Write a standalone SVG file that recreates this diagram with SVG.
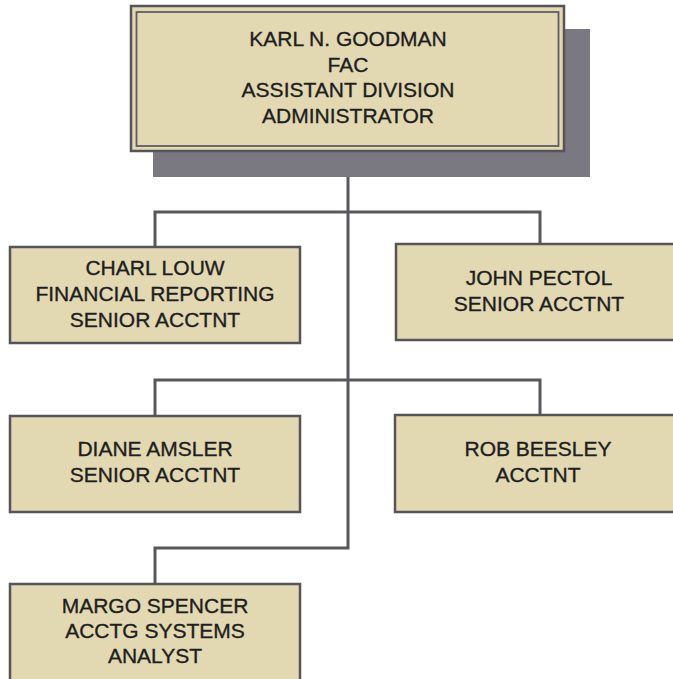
<svg xmlns="http://www.w3.org/2000/svg" width="673" height="679" viewBox="0 0 673 679">
<style>
.box{fill:#e2d8b2;stroke:#55545a;stroke-width:2.5}
.inner{fill:none;stroke:#5e5d62;stroke-width:1.8}
.shadow{fill:#7a7880}
.conn{fill:none;stroke:#58575d;stroke-width:3}
text{font-family:"Liberation Sans",Arial,sans-serif;font-size:21px;fill:#1e1e1e;stroke:#1e1e1e;stroke-width:0.35;text-anchor:middle}
</style>
<rect width="673" height="679" fill="#ffffff"/>
<g id="connectors">
<path class="conn" d="M348,150 V548 H155 V584"/>
<path class="conn" d="M155,247 V212 H540 V244"/>
<path class="conn" d="M155,416 V380 H540 V415"/>
</g>
<g id="node-goodman">
<rect class="shadow" x="153" y="29" width="437" height="148"/>
<rect class="box" x="131" y="6" width="433" height="145"/>
<rect class="inner" x="136.5" y="12" width="422" height="134"/>
<text x="348" y="46">KARL N. GOODMAN</text>
<text x="348" y="72">FAC</text>
<text x="348" y="97">ASSISTANT DIVISION</text>
<text x="348" y="123">ADMINISTRATOR</text>
</g>
<g id="node-louw">
<rect class="box" x="10" y="247" width="290" height="96"/>
<text x="155" y="275">CHARL LOUW</text>
<text x="155" y="301">FINANCIAL REPORTING</text>
<text x="155" y="327">SENIOR ACCTNT</text>
</g>
<g id="node-pectol">
<rect class="box" x="396" y="244" width="292" height="96"/>
<text x="539" y="285">JOHN PECTOL</text>
<text x="539" y="311">SENIOR ACCTNT</text>
</g>
<g id="node-amsler">
<rect class="box" x="10" y="416" width="290" height="96"/>
<text x="155" y="456">DIANE AMSLER</text>
<text x="155" y="482">SENIOR ACCTNT</text>
</g>
<g id="node-beesley">
<rect class="box" x="395" y="415" width="292" height="97"/>
<text x="538" y="456">ROB BEESLEY</text>
<text x="538" y="482">ACCTNT</text>
</g>
<g id="node-spencer">
<rect class="box" x="10" y="584" width="290" height="100"/>
<text x="155" y="613">MARGO SPENCER</text>
<text x="155" y="638">ACCTG SYSTEMS</text>
<text x="155" y="663">ANALYST</text>
</g>
</svg>
